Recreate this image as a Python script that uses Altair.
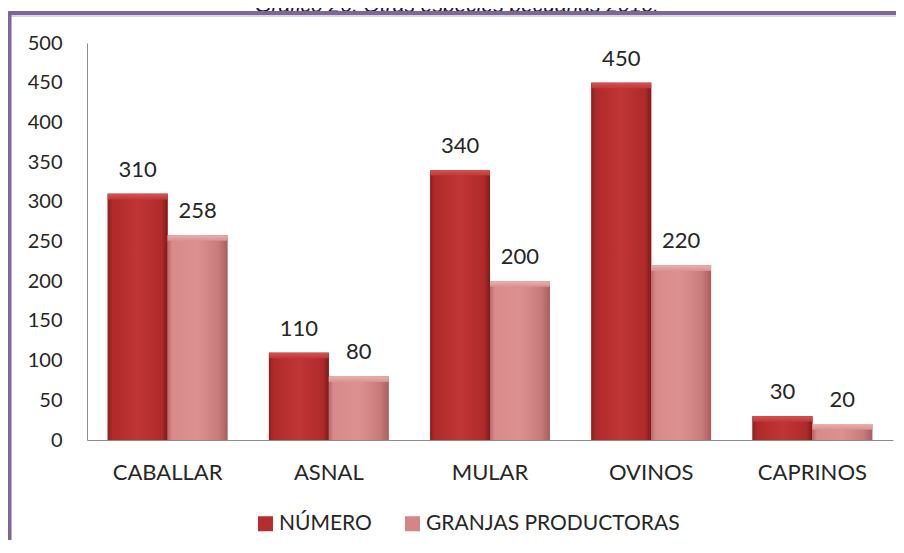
import altair as alt
import pandas as pd

categories = ["CABALLAR", "ASNAL", "MULAR", "OVINOS", "CAPRINOS"]
numero = [310, 110, 340, 450, 30]
granjas = [258, 80, 200, 220, 20]
series_names = ["NÚMERO", "GRANJAS PRODUCTORAS"]
y_ticks = [0, 50, 100, 150, 200, 250, 300, 350, 400, 450, 500]
title_text = "Gráfico 26. Otras especies pecuarias 2010."

rows = []
for c, n, g in zip(categories, numero, granjas):
    rows.append({"cat": c, "serie": series_names[0], "value": n})
    rows.append({"cat": c, "serie": series_names[1], "value": g})
df = pd.DataFrame(rows)

W, H = 806, 397
FONT = "Lato"
TXT = "#262626"
AXIS_C = "#8c8c8c"

x_enc = alt.X(
    "cat:N", sort=categories,
    scale=alt.Scale(paddingInner=0.257, paddingOuter=0.1285),
    axis=alt.Axis(title=None, labelAngle=0, ticks=False, domainColor=AXIS_C,
                  labelFontSize=22, labelColor=TXT, labelPadding=22, labelFont=FONT),
)
xo_enc = alt.XOffset("serie:N", sort=series_names,
                     scale=alt.Scale(domain=series_names, paddingInner=0, paddingOuter=0))
y_enc = alt.Y(
    "value:Q", scale=alt.Scale(domain=[0, 500], nice=False),
    axis=alt.Axis(values=y_ticks, title=None, grid=False, ticks=False, domainColor=AXIS_C,
                  labelPadding=25, labelFontSize=20, labelColor=TXT, labelFont=FONT),
)

base = alt.Chart(df)

bars = base.mark_bar().encode(
    x=x_enc, xOffset=xo_enc, y=y_enc,
    color=alt.Color(
        "serie:N", sort=series_names,
        scale=alt.Scale(domain=series_names, range=["#b52d2d", "#d48585"]),
        legend=alt.Legend(orient="none", legendX=168, legendY=470, direction="horizontal",
                          title=None, symbolType="square", symbolSize=225,
                          labelFontSize=21, labelFont=FONT, labelColor=TXT, labelLimit=500,
                          columnPadding=30, labelOffset=3, symbolStrokeWidth=0),
    ),
)

def grad(stops, vertical=False):
    if vertical:
        return alt.LinearGradient(
            gradient="linear", x1=0, x2=0, y1=0, y2=1,
            stops=[alt.GradientStop(color=c, offset=o) for o, c in stops],
        )
    return alt.LinearGradient(
        gradient="linear", x1=0, x2=1, y1=0, y2=0,
        stops=[alt.GradientStop(color=c, offset=o) for o, c in stops],
    )

dark_grad = grad([(0, "#8e1f1f"), (0.08, "#b02a2a"), (0.5, "#c03535"), (0.9, "#b02a2a"), (1, "#7e1a1a")])
pink_grad = grad([(0, "#b86a6a"), (0.08, "#d98a8a"), (0.5, "#dc9191"), (0.85, "#c97b7b"), (1, "#a95e5e")])
dark_top = grad([(0, "#d65252"), (1, "#c03737")], vertical=True)
pink_top = grad([(0, "#eab0b0"), (1, "#da9090")], vertical=True)

dark_bars = base.mark_bar(fill=dark_grad).encode(x=x_enc, xOffset=xo_enc, y=y_enc).transform_filter(
    alt.datum.serie == series_names[0])
pink_bars = base.mark_bar(fill=pink_grad).encode(x=x_enc, xOffset=xo_enc, y=y_enc).transform_filter(
    alt.datum.serie == series_names[1])

bevel_y2 = alt.Y2("bevel:Q")
dark_bevel = base.transform_filter(alt.datum.serie == series_names[0]).transform_calculate(
    bevel="datum.value - 7").mark_bar(fill=dark_top).encode(
    x=x_enc, xOffset=xo_enc, y=y_enc, y2=bevel_y2)
pink_bevel = base.transform_filter(alt.datum.serie == series_names[1]).transform_calculate(
    bevel="datum.value - 7").mark_bar(fill=pink_top).encode(
    x=x_enc, xOffset=xo_enc, y=y_enc, y2=bevel_y2)

labels = base.mark_text(baseline="bottom", dy=-12, fontSize=22, font=FONT, color=TXT).encode(
    x=x_enc, xOffset=xo_enc, y=y_enc, text=alt.Text("value:Q"))

deco = alt.Chart(pd.DataFrame({"k": [0]}))
title = deco.mark_text(text=title_text, font="Liberation Sans", fontStyle="italic", fontSize=21,
                       color="#1a1a1a", baseline="alphabetic", align="center").encode(
    x=alt.value(370), y=alt.value(-31))
top_border = deco.mark_rule(color="#7d6799", strokeWidth=4).encode(
    x=alt.value(-80), x2=alt.value(830), y=alt.value(-30))
top_light = deco.mark_rule(color="#dcd3e6", strokeWidth=2).encode(
    x=alt.value(-76), x2=alt.value(830), y=alt.value(-27))
left_border = deco.mark_rule(color="#7d6799", strokeWidth=4).encode(
    x=alt.value(-77.5), y=alt.value(-32), y2=alt.value(520))

chart = alt.layer(bars, dark_bars, pink_bars, dark_bevel, pink_bevel, labels,
                  title, top_border, top_light, left_border).properties(
    width=W, height=H,
    padding={"left": 79, "top": 35, "right": 3, "bottom": 100},
    autosize=alt.AutoSizeParams(type="none"),
    background="white",
).configure_view(stroke=None)

chart.save("out.html", embed_options={"renderer": "svg", "actions": False})
